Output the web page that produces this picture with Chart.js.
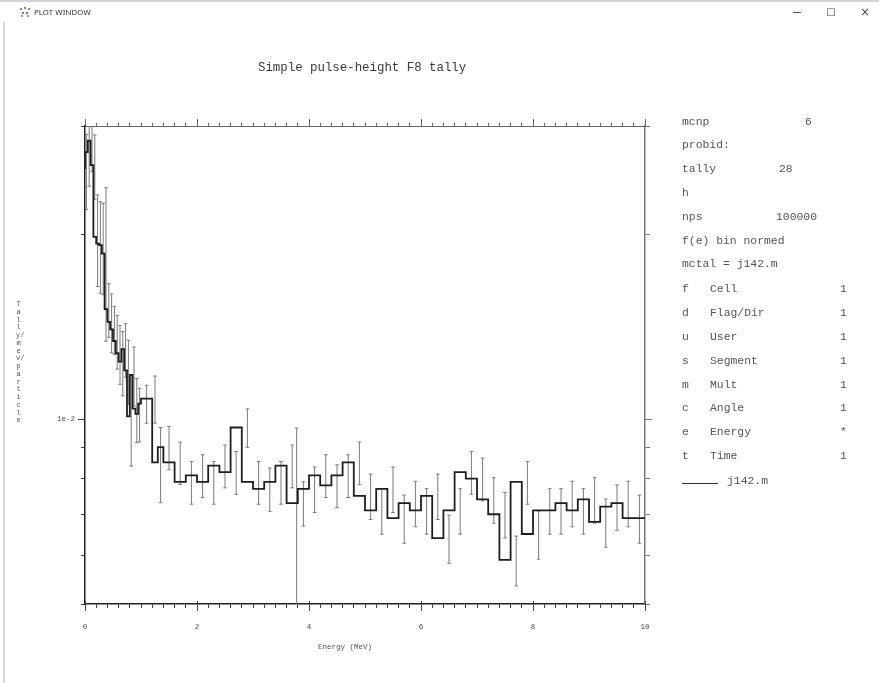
<!DOCTYPE html>
<html>
<head>
<meta charset="utf-8">
<title>PLOT WINDOW</title>
<script src="https://cdn.jsdelivr.net/npm/chart.js@4.4.1/dist/chart.umd.min.js"></script>
<style>
  html, body { margin: 0; padding: 0; background: #fff; }
  #win { position: relative; width: 879px; height: 683px; overflow: hidden; background: #fff;
         font-family: 'Liberation Mono', 'DejaVu Sans Mono', monospace; color: #4a4a4a; }
  #win canvas { position: absolute; left: 0; top: 0; }
  .topEdge { position: absolute; left: 0; top: 0; width: 879px; height: 2px; background: #d4d4d4; }
  .leftEdge { position: absolute; left: 3px; top: 22px; width: 2px; height: 661px; background: #d8d8d8; }
  .caption { position: absolute; left: 34px; top: 12px; transform: translateY(-50%);
             font-family: 'Noto Sans', 'Open Sans', sans-serif; font-size: 7.8px; color: #333; letter-spacing: 0.1px; }
  .icon { position: absolute; left: 20px; top: 7px; width: 10px; height: 10px; }
  .icon i { position: absolute; width: 2px; height: 2px; }
  .btn { position: absolute; top: 12px; transform: translate(-50%, -50%);
         font-family: 'DejaVu Sans', sans-serif; color: #444; line-height: 1; }
  .minbar { position: absolute; left: 793px; top: 12px; width: 8px; height: 0; border-top: 1px solid #555; }
  .t { position: absolute; white-space: pre; line-height: 1; transform: translateY(-50%); }
  .title { left: 258px; top: 68px; font-size: 12.4px; color: #3a3a3a; }
  .ytitle { position: absolute; left: 16px; top: 301px; width: 5px; font-size: 7px; line-height: 7.76px;
            word-break: break-all; color: #555; text-align: center; }
  .xtitle { left: 318px; top: 648px; font-size: 7.5px; color: #555; }
  .leg { font-size: 11.4px; color: #555; }
  .sample { position: absolute; left: 682px; top: 483px; width: 36px; height: 0; border-top: 1.5px solid #333; }
</style>
</head>
<body>
<div id="win">
  <canvas id="plot" width="879" height="683"></canvas>

  <div class="topEdge"></div>
  <div class="leftEdge"></div>
  <div class="icon"><i style="left:0;top:1px;background:#6a8fc0"></i><i style="left:4px;top:0;background:#c06a6a"></i><i style="left:8px;top:1px;background:#6aa06a"></i><i style="left:2px;top:5px;background:#777"></i><i style="left:6px;top:5px;background:#777"></i><i style="left:1px;top:8px;background:#999"></i><i style="left:7px;top:8px;background:#999"></i></div>
  <div class="caption">PLOT WINDOW</div>
  <div class="minbar"></div>
  <div class="btn" style="left:831px;font-size:10px;">□</div>
  <div class="btn" style="left:865px;font-size:12px;">×</div>

  <div class="t title">Simple pulse-height F8 tally</div>
  <div class="ytitle">Tally/mev/particle</div>
  <div class="t xtitle">Energy (MeV)</div>

  <div class="t leg" style="left:682px;top:123px;">mcnp</div>
  <div class="t leg" style="left:805px;top:123px;">6</div>
  <div class="t leg" style="left:682px;top:146px;">probid:</div>
  <div class="t leg" style="left:682px;top:170px;">tally</div>
  <div class="t leg" style="left:779px;top:170px;">28</div>
  <div class="t leg" style="left:682px;top:194px;">h</div>
  <div class="t leg" style="left:682px;top:218px;">nps</div>
  <div class="t leg" style="left:776px;top:218px;">100000</div>
  <div class="t leg" style="left:682px;top:242px;">f(e) bin normed</div>
  <div class="t leg" style="left:682px;top:265px;">mctal = j142.m</div>

  <div class="t leg" style="left:682px;top:290px;">f</div><div class="t leg" style="left:710px;top:290px;">Cell</div><div class="t leg" style="left:840px;top:290px;">1</div>
  <div class="t leg" style="left:682px;top:314px;">d</div><div class="t leg" style="left:710px;top:314px;">Flag/Dir</div><div class="t leg" style="left:840px;top:314px;">1</div>
  <div class="t leg" style="left:682px;top:338px;">u</div><div class="t leg" style="left:710px;top:338px;">User</div><div class="t leg" style="left:840px;top:338px;">1</div>
  <div class="t leg" style="left:682px;top:362px;">s</div><div class="t leg" style="left:710px;top:362px;">Segment</div><div class="t leg" style="left:840px;top:362px;">1</div>
  <div class="t leg" style="left:682px;top:386px;">m</div><div class="t leg" style="left:710px;top:386px;">Mult</div><div class="t leg" style="left:840px;top:386px;">1</div>
  <div class="t leg" style="left:682px;top:409px;">c</div><div class="t leg" style="left:710px;top:409px;">Angle</div><div class="t leg" style="left:840px;top:409px;">1</div>
  <div class="t leg" style="left:682px;top:433px;">e</div><div class="t leg" style="left:710px;top:433px;">Energy</div><div class="t leg" style="left:840px;top:433px;">*</div>
  <div class="t leg" style="left:682px;top:457px;">t</div><div class="t leg" style="left:710px;top:457px;">Time</div><div class="t leg" style="left:840px;top:457px;">1</div>
  <div class="sample"></div>
  <div class="t leg" style="left:727px;top:482px;">j142.m</div>
</div>

<script>
// Energy bin edges (MeV) of the pulse-height tally
const edges = [
  0.00, 0.05, 0.10, 0.15, 0.20, 0.25, 0.30, 0.35, 0.40, 0.45, 0.50,
  0.55, 0.60, 0.65, 0.70, 0.75, 0.80, 0.85, 0.90, 0.95, 1.00,
  1.20, 1.30, 1.40,
  1.60, 1.80, 2.00, 2.20, 2.40, 2.60, 2.80, 3.00, 3.20, 3.40, 3.60,
  3.80, 4.00, 4.20, 4.40, 4.60, 4.80, 5.00, 5.20, 5.40, 5.60, 5.80,
  6.00, 6.20, 6.40, 6.60, 6.80, 7.00, 7.20, 7.40, 7.60, 7.80, 8.00,
  8.20, 8.40, 8.60, 8.80, 9.00, 9.20, 9.40, 9.60, 9.80, 10.00
];

// Tally per bin (tally/MeV/particle)
const tally = [
  0.0255, 0.0272, 0.0284, 0.0259, 0.0198, 0.0193, 0.0192, 0.0186, 0.0151, 0.0144,
  0.0140, 0.0134, 0.0128, 0.0124, 0.0130, 0.0120, 0.0101, 0.0118, 0.0104, 0.0102,
  0.0106, 0.0108, 0.0085,
  0.0090, 0.0085, 0.0079, 0.0081, 0.0079, 0.0084, 0.0082, 0.00969, 0.0079, 0.0077,
  0.0079, 0.0084, 0.0073, 0.0077, 0.0081, 0.0078, 0.0081, 0.0085, 0.0075, 0.0071,
  0.0077, 0.0069, 0.0073, 0.0071, 0.0075, 0.0064, 0.0071, 0.0082, 0.0080, 0.0074,
  0.0070, 0.0059, 0.0079, 0.0065, 0.0071, 0.0071, 0.0073, 0.0071, 0.0074, 0.0068,
  0.0072, 0.0073, 0.0069
];

// Relative error per bin
const relErr = [
  0.14, 0.12, 0.11, 0.12, 0.17, 0.17, 0.17, 0.28, 0.10, 0.11,
  0.09, 0.10, 0.11, 0.12, 0.10, 0.12, 0.17, 0.11, 0.12, 0.10,
  0.071, 0.088, 0.14,
  0.081, 0.079, 0.080, 0.080, 0.080, 0.080, 0.080, 0.072, 0.080, 0.081,
  0.080, 0.080, 0.083, 0.085, 0.080, 0.080, 0.080, 0.080, 0.085, 0.085,
  0.085, 0.090, 0.085, 0.085, 0.085, 0.090, 0.085, 0.080, 0.080, 0.085,
  0.085, 0.093, 0.080, 0.090, 0.085, 0.085, 0.085, 0.085, 0.085, 0.090,
  0.085, 0.085, 0.090
];

// Lone wide error bar near 3.8 MeV
const spikeE = [3.78];
const spikeVal = [0.0063];
const spikeErr = [0.535];

// Axis ranges and tick labels
const xMin = 0, xMax = 10;
const yMin = 0.005, yMax = 0.03;
const xLabelValues = [0, 2, 4, 6, 8, 10];
const yTickValues = [0.005, 0.006, 0.007, 0.008, 0.009, 0.01, 0.02, 0.03];
const yLabelValues = [0.01];
const yLabelTexts = ['1e-2'];

// Minor ticks every 0.2 MeV
const xTickValues = [];
for (let i = 0; i <= 50; i++) xTickValues.push(Math.round(i * 2) / 10);

// Histogram outline: one point per bin edge, stepped after
const stepPoints = edges.map((e, i) => ({ x: e, y: tally[Math.min(i, tally.length - 1)] }));

// Error bars: low/high pairs at bin centres, separated by gaps
const errPoints = [];
tally.forEach((v, i) => {
  const c = (edges[i] + edges[i + 1]) / 2;
  errPoints.push({ x: c, y: v * (1 - relErr[i]) }, { x: c, y: v * (1 + relErr[i]) }, { x: c, y: null });
});
spikeE.forEach((e, i) => {
  errPoints.push({ x: e, y: spikeVal[i] * (1 - spikeErr[i]) }, { x: e, y: spikeVal[i] * (1 + spikeErr[i]) }, { x: e, y: null });
});

const mono = "'Liberation Mono', 'DejaVu Sans Mono', monospace";

// Longer marks at the labelled ticks on all four sides
const majorTicks = {
  id: 'majorTicks',
  afterDraw(chart) {
    const { ctx, chartArea: a, scales } = chart;
    ctx.save();
    ctx.lineWidth = 1;
    const seg = (x1, y1, x2, y2, c) => { ctx.strokeStyle = c; ctx.beginPath(); ctx.moveTo(x1, y1); ctx.lineTo(x2, y2); ctx.stroke(); };
    xLabelValues.forEach(v => {
      const px = Math.round(scales.x.getPixelForValue(v)) + 0.5;
      seg(px, a.bottom - 3, px, a.bottom + 7, '#444');
      seg(px, a.top - 7, px, a.top, '#666');
    });
    yLabelValues.forEach(v => {
      const py = Math.round(scales.y.getPixelForValue(v)) + 0.5;
      seg(a.left - 7, py, a.left, py, '#444');
      seg(a.right, py, a.right + 7, py, '#777');
    });
    ctx.restore();
  }
};

new Chart(document.getElementById('plot'), {
  type: 'line',
  data: {
    datasets: [
      {
        label: 'j142.m',
        data: stepPoints,
        stepped: 'after',
        borderColor: '#1e1e1e',
        borderWidth: 1.8,
        pointRadius: 0,
        fill: false
      },
      {
        label: 'error',
        data: errPoints,
        borderColor: '#7a7a7a',
        borderWidth: 1,
        pointStyle: 'line',
        pointRadius: 1.8,
        pointBorderColor: '#7a7a7a',
        pointBorderWidth: 1,
        spanGaps: false,
        fill: false
      }
    ]
  },
  options: {
    responsive: false,
    animation: false,
    devicePixelRatio: 1,
    layout: { padding: 0 },
    plugins: { legend: { display: false }, tooltip: { enabled: false } },
    scales: {
      x: {
        type: 'linear', position: 'bottom', min: xMin, max: xMax,
        afterBuildTicks: s => { s.ticks = xTickValues.map(v => ({ value: v })); },
        afterFit: s => { s.height = 79; },
        ticks: {
          autoSkip: false, maxRotation: 0, padding: 15, color: '#4a4a4a',
          font: { family: mono, size: 7.5 },
          callback: v => (xLabelValues.includes(v) ? String(v) : '')
        },
        grid: { drawOnChartArea: false, drawTicks: true, tickLength: 4, tickColor: '#444', tickWidth: 1 },
        border: { display: true, color: '#222', width: 1.5 }
      },
      xTop: {
        type: 'linear', position: 'top', min: xMin, max: xMax,
        afterBuildTicks: s => { s.ticks = xTickValues.map(v => ({ value: v })); },
        afterFit: s => { s.height = 126; },
        ticks: { display: false, autoSkip: false },
        grid: { drawOnChartArea: false, drawTicks: true, tickLength: 3, tickColor: '#666', tickWidth: 1 },
        border: { display: true, color: '#666', width: 1 }
      },
      y: {
        type: 'logarithmic', position: 'left', min: yMin, max: yMax,
        afterBuildTicks: s => { s.ticks = yTickValues.map(v => ({ value: v })); },
        afterFit: s => { s.width = 85; },
        ticks: {
          autoSkip: false, padding: 6, color: '#4a4a4a',
          font: { family: mono, size: 7.5 },
          callback: v => { const k = yLabelValues.indexOf(v); return k < 0 ? '' : yLabelTexts[k]; }
        },
        grid: { drawOnChartArea: false, drawTicks: true, tickLength: 4, tickColor: '#444', tickWidth: 1 },
        border: { display: true, color: '#222', width: 1.5 }
      },
      yRight: {
        type: 'logarithmic', position: 'right', min: yMin, max: yMax,
        afterBuildTicks: s => { s.ticks = yTickValues.map(v => ({ value: v })); },
        afterFit: s => { s.width = 234; },
        ticks: { display: false, autoSkip: false },
        grid: { drawOnChartArea: false, drawTicks: true, tickLength: 5, tickColor: '#777', tickWidth: 1 },
        border: { display: true, color: '#777', width: 1.5 }
      }
    }
  },
  plugins: [majorTicks]
});
</script>
</body>
</html>
